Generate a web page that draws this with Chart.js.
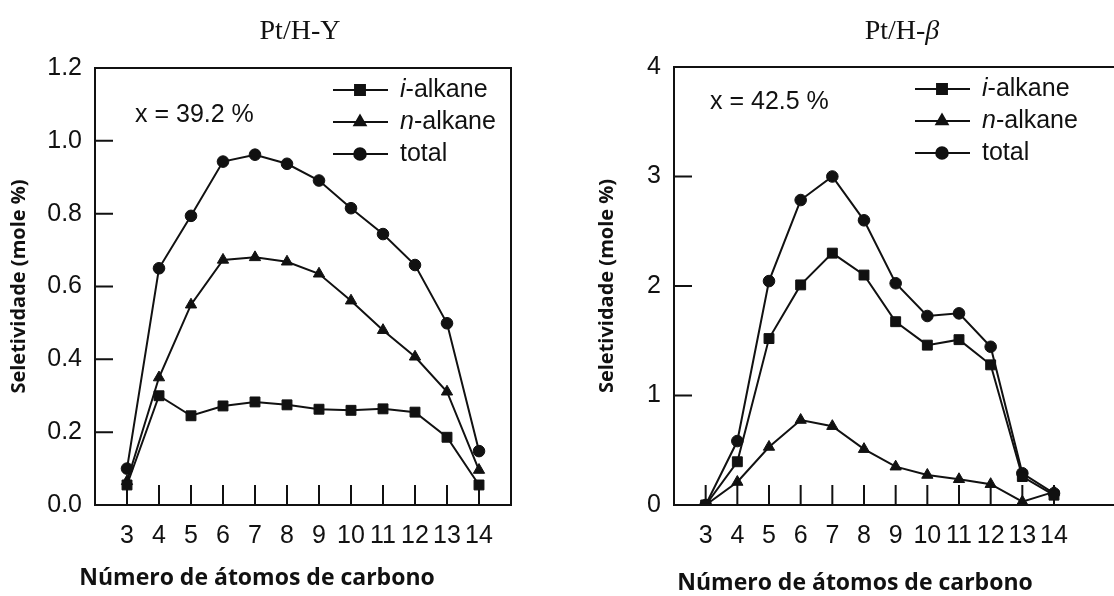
<!DOCTYPE html>
<html>
<head>
<meta charset="utf-8">
<title>Seletividade</title>
<script src="https://cdn.jsdelivr.net/npm/chart.js@4.4.1/dist/chart.umd.min.js"></script>
<style>
html, body { margin: 0; padding: 0; background: #fff; width: 1114px; height: 596px; overflow: hidden; }
canvas { position: absolute; top: 0; }
#left { left: 0; }
#right { left: 557px; }
</style>
</head>
<body>
<canvas id="left" width="557" height="596"></canvas>
<canvas id="right" width="600" height="596"></canvas>
<script>
var carbons = [3, 4, 5, 6, 7, 8, 9, 10, 11, 12, 13, 14];
var seriesNames = ['i-alkane', 'n-alkane', 'total'];
var seriesMarkers = ['rect', 'triangle', 'circle'];

// Pt/H-Y, x = 39.2 %
var hyIso = [0.055, 0.30, 0.245, 0.272, 0.283, 0.275, 0.263, 0.260, 0.264, 0.255, 0.186, 0.055];
var hyNormal = [0.065, 0.35, 0.55, 0.673, 0.680, 0.668, 0.635, 0.561, 0.480, 0.407, 0.311, 0.096];
var hyTotal = [0.10, 0.65, 0.794, 0.943, 0.962, 0.937, 0.891, 0.815, 0.744, 0.659, 0.499, 0.148];
var hyYTicks = [0, 0.2, 0.4, 0.6, 0.8, 1.0, 1.2];

// Pt/H-beta, x = 42.5 %
var betaIso = [0, 0.395, 1.52, 2.01, 2.30, 2.10, 1.674, 1.46, 1.51, 1.28, 0.26, 0.09];
var betaNormal = [0, 0.21, 0.53, 0.776, 0.72, 0.51, 0.35, 0.274, 0.235, 0.19, 0.03, 0.12];
var betaTotal = [0, 0.584, 2.045, 2.785, 3.0, 2.60, 2.025, 1.726, 1.75, 1.445, 0.29, 0.107];
var betaYTicks = [0, 1, 2, 3, 4];

var ink = '#111';
var boldFont = '"Open Sans", "Noto Sans", sans-serif';
var sansFont = '"Liberation Sans", Arial, sans-serif';
var serifFont = '"Liberation Serif", "Times New Roman", serif';

function makeDatasets(values) {
    var sizes = { rect: 7, triangle: 6.5, circle: 5.8 };
    return values.map(function (data, i) {
        return {
            label: seriesNames[i],
            data: data.map(function (v, k) { return { x: carbons[k], y: v }; }),
            borderColor: ink,
            backgroundColor: ink,
            borderWidth: 2,
            pointStyle: seriesMarkers[i],
            pointRadius: sizes[seriesMarkers[i]],
            pointBorderWidth: 1,
            tension: 0
        };
    });
}

// box, inner ticks, titles, note and legend
var framePlugin = {
    id: 'frame',
    beforeDatasetsDraw: function (chart) {
        var ctx = chart.ctx, a = chart.chartArea, xs = chart.scales.x, ys = chart.scales.y;
        ctx.save();
        ctx.strokeStyle = ink;
        ctx.lineWidth = 2;
        ctx.strokeRect(a.left, a.top, a.right - a.left, a.bottom - a.top);
        ctx.beginPath();
        xs.ticks.forEach(function (t) {
            var px = xs.getPixelForValue(t.value);
            ctx.moveTo(px, a.bottom);
            ctx.lineTo(px, a.bottom - 20);
        });
        ys.ticks.forEach(function (t) {
            if (t.value > ys.min && t.value < ys.max) {
                var py = ys.getPixelForValue(t.value);
                ctx.moveTo(a.left, py);
                ctx.lineTo(a.left + 18, py);
            }
        });
        ctx.stroke();
        ctx.restore();
    },
    afterDatasetsDraw: function (chart) {
        var o = chart.options.plugins.panel;
        var ctx = chart.ctx;
        ctx.save();
        ctx.fillStyle = ink;
        ctx.textBaseline = 'middle';

        ctx.textAlign = 'left';
        ctx.font = '28px ' + serifFont;
        var w1 = ctx.measureText(o.title).width;
        ctx.font = 'italic 28px ' + serifFont;
        var w2 = o.italicTail ? ctx.measureText(o.italicTail).width : 0;
        ctx.font = '28px ' + serifFont;
        ctx.fillText(o.title, o.titleX - (w1 + w2) / 2, o.titleY);
        if (o.italicTail) {
            ctx.font = 'italic 28px ' + serifFont;
            ctx.fillText(o.italicTail, o.titleX - (w1 + w2) / 2 + w1, o.titleY);
        }

        ctx.textAlign = 'center';
        ctx.font = 'bold 23px ' + boldFont;
        ctx.fillText('Número de átomos de carbono', o.xTitleX, o.xTitleY);

        ctx.textAlign = 'left';
        ctx.font = '25px ' + sansFont;
        ctx.fillText(o.note, o.noteX, o.noteY);

        // legend: line with marker, italic prefix
        chart.data.datasets.forEach(function (ds, i) {
            var y = o.legendY + i * 32;
            ctx.strokeStyle = ink;
            ctx.lineWidth = 2;
            ctx.beginPath();
            ctx.moveTo(o.legendX, y);
            ctx.lineTo(o.legendX + 55, y);
            ctx.stroke();
            Chart.helpers.drawPoint(ctx, { pointStyle: ds.pointStyle, radius: ds.pointRadius, borderWidth: 1 }, o.legendX + 27, y);
            ctx.fill();
            var x = o.legendX + 67;
            var parts = ds.label.split('-');
            if (parts.length > 1) {
                ctx.font = 'italic 25px ' + sansFont;
                ctx.fillText(parts[0], x, y);
                x += ctx.measureText(parts[0]).width;
                ctx.font = '25px ' + sansFont;
                ctx.fillText('-' + parts.slice(1).join('-'), x, y);
            } else {
                ctx.font = '25px ' + sansFont;
                ctx.fillText(ds.label, x, y);
            }
        });
        ctx.restore();
    }
};

function makeConfig(values, yTicks, yMax, xMax, axisWidth, yTitlePad, padRight, padTop, decimals, panel) {
    return {
        type: 'line',
        data: { datasets: makeDatasets(values) },
        options: {
            responsive: false,
            animation: false,
            layout: { padding: { top: padTop, right: padRight, bottom: 0, left: 0 } },
            plugins: { legend: { display: false }, tooltip: { enabled: false }, panel: panel },
            scales: {
                x: {
                    type: 'linear',
                    min: 2,
                    max: xMax,
                    grid: { display: false, drawTicks: false },
                    border: { display: false },
                    afterBuildTicks: function (s) { s.ticks = carbons.map(function (c) { return { value: c }; }); },
                    afterFit: function (s) { s.height = 91; },
                    ticks: { color: ink, padding: 16, maxRotation: 0, autoSkip: false, font: { family: sansFont, size: 25 } }
                },
                y: {
                    min: 0,
                    max: yMax,
                    grid: { display: false, drawTicks: false },
                    border: { display: false },
                    afterBuildTicks: function (s) { s.ticks = yTicks.map(function (v) { return { value: v }; }); },
                    afterFit: function (s) { s.width = axisWidth; },
                    ticks: {
                        color: ink, padding: 13, font: { family: sansFont, size: 25 },
                        callback: function (v) { return v.toFixed(decimals); }
                    },
                    title: {
                        display: true, text: 'Seletividade (mole %)', color: ink,
                        padding: { top: yTitlePad, bottom: 0 },
                        font: { family: boldFont, size: 20, weight: 'bold' }
                    }
                }
            }
        },
        plugins: [framePlugin]
    };
}

window.onload = function () {
    new Chart(document.getElementById('left').getContext('2d'),
        makeConfig([hyIso, hyNormal, hyTotal], hyYTicks, 1.2, 15, 95, 7, 46, 68, 1, {
            title: 'Pt/H-Y', titleX: 300, titleY: 32,
            note: 'x = 39.2 %', noteX: 135, noteY: 115,
            legendX: 333, legendY: 90,
            xTitleX: 257, xTitleY: 578
        }));
    new Chart(document.getElementById('right').getContext('2d'),
        makeConfig([betaIso, betaNormal, betaTotal], betaYTicks, 4, 17, 117, 38, 0, 67, 0, {
            title: 'Pt/H-', italicTail: 'β', titleX: 345, titleY: 32,
            note: 'x = 42.5 %', noteX: 153, noteY: 102,
            legendX: 358, legendY: 89,
            xTitleX: 298, xTitleY: 583
        }));
};
</script>
</body>
</html>
